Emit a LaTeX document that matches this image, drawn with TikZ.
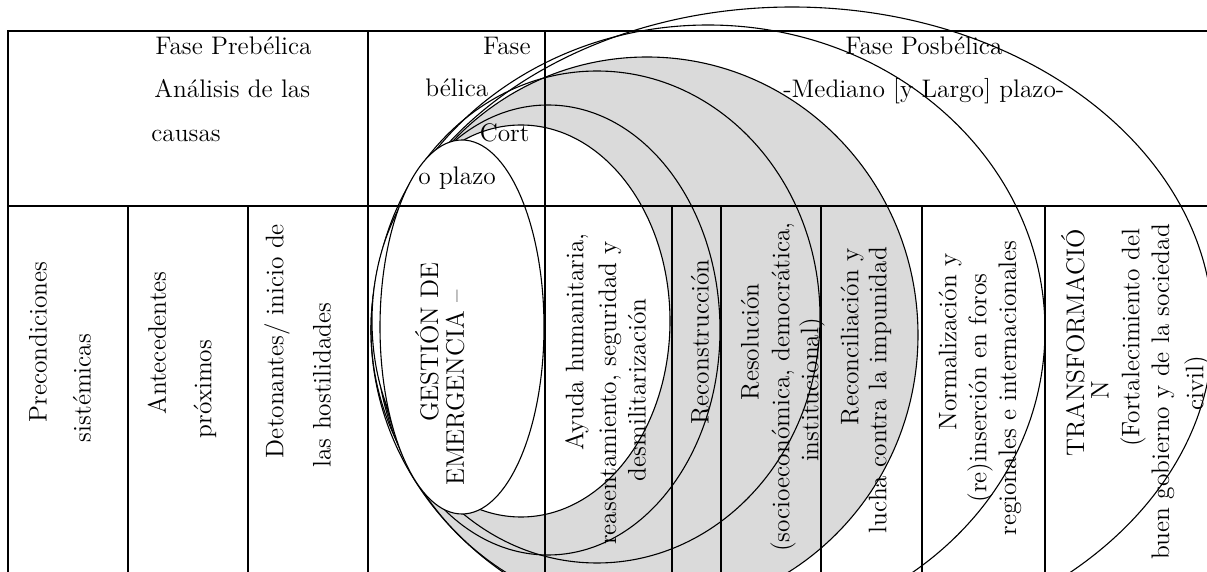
\documentclass[tikz,border=0pt]{standalone}
\usepackage{tikz}
\usetikzlibrary{positioning}
\definecolor{bandgray}{RGB}{218,218,218}
\tikzset{
	tabline/.style={line width=0.65pt},
	ring/.style={draw, line width=0.55pt},
	shadedring/.style={ring, fill=bandgray},
	blankring/.style={ring, fill=white},
	celltext/.style={font=\fontsize{12.7}{15}\selectfont, inner sep=0pt},
	coltext/.style={celltext, rotate=90, anchor=center}
}

\begin{document}
\begin{tikzpicture}[x=0.5pt, y=-0.5pt]
	\useasboundingbox (0,0) rectangle (1207,572);
	\clip (0,0) rectangle (1207,572);
	% rings, largest first
	\draw[ring] (792,330) ellipse [x radius=421, y radius=323];
	\draw[ring] (708,330) ellipse [x radius=337, y radius=305];
	\draw[shadedring] (647,335) ellipse [x radius=271, y radius=278];
	\draw[ring] (597,317) ellipse [x radius=223, y radius=246];
	\draw[ring] (548,330) ellipse [x radius=172, y radius=225];
	\draw[blankring] (521,321) ellipse [x radius=149, y radius=196];
	\draw[blankring] (462,327) ellipse [x radius=82, y radius=187];
	% table
	\draw[tabline] (1207,31) -- (8,31) -- (8,572);
	\draw[tabline] (8,206) -- (1207,206);
	\foreach \x in {368,545}
		\draw[tabline] (\x,31) -- (\x,572);
	\foreach \x in {128,248,672,721,821,922,1045}
		\draw[tabline] (\x,206) -- (\x,572);
	% header
	\node[celltext, anchor=base west] (pre1) at (155,55) {Fase Prebélica};
	\node[celltext, anchor=base west] (pre2) at (154,98) {Análisis de las};
	\node[celltext, anchor=base west] (pre3) at (151,142) {causas};
	\node[celltext, anchor=base east] (bel1) at (531,55) {Fase};
	\node[celltext, anchor=base west] (bel2) at (425,97) {bélica};
	\node[celltext, anchor=base east] (bel3) at (530,142) {Cort};
	\node[celltext, anchor=base west] (bel4) at (418,185) {o plazo};
	\node[celltext, anchor=base west] (pos1) at (845,55) {Fase Posbélica};
	\node[celltext, anchor=base west] (pos2) at (783,98) {-Mediano [y Largo] plazo-};
	% columns
	\foreach \x/\y/\t [count=\i] in {
		38/342/Precondiciones, 82/388/sistémicas,
		157/343/Antecedentes, 205/389/próximos,
		277/341/{Detonantes/ inicio de}, 322/385/las hostilidades,
		427/342/GESTIÓN DE, 455/388/EMERGENCIA –,
		577/342/{Ayuda humanitaria,}, 610/393/{reasentamiento, seguridad y}, 637/390/desmilitarización,
		700/342/Reconstrucción,
		750/342/Resolución, 783/387/{(socioeconómica, democrática,}, 812/390/institucional),
		852/337/Reconciliación y, 880/390/lucha contra la impunidad,
		950/342/Normalización y, 980/388/(re)inserción en foros, 1010/388/regionales e internacionales,
		1073/343/TRANSFORMACIÓ, 1100/390/N, 1133/338/(Fortalecimiento del,
		1163/392/buen gobierno y de la sociedad, 1197/383/civil)}
		\node[coltext] (col\i) at (\x,\y) {\t};
\end{tikzpicture}
\end{document}
